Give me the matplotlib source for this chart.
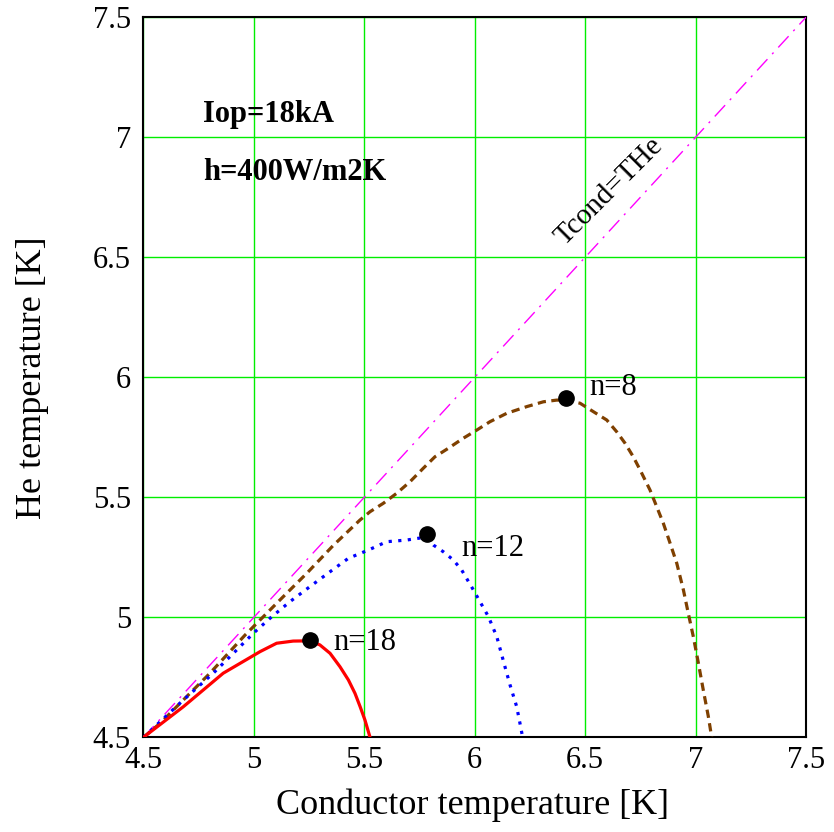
import matplotlib
matplotlib.use("Agg")
import matplotlib.pyplot as plt

# He temperature vs conductor temperature for different n-values
red_x = [4.50, 4.68, 4.861, 5.028, 5.103, 5.178, 5.254, 5.299, 5.345, 5.39, 5.428,
         5.458, 5.481, 5.503, 5.526]
red_y = [4.50, 4.627, 4.767, 4.857, 4.892, 4.901, 4.902, 4.885, 4.85, 4.794, 4.739,
         4.683, 4.628, 4.572, 4.50]

blue_x = [4.50, 4.68, 4.816, 4.907, 4.997, 5.073, 5.163, 5.254, 5.345, 5.428, 5.518,
          5.601, 5.692, 5.75, 5.783, 5.813, 5.858, 5.903, 5.941, 5.994, 6.062, 6.1,
          6.137, 6.16, 6.19, 6.205, 6.217]
blue_y = [4.50, 4.655, 4.767, 4.85, 4.933, 4.996, 5.065, 5.128, 5.19, 5.246, 5.28,
          5.315, 5.322, 5.33, 5.33, 5.301, 5.273, 5.239, 5.197, 5.114, 5.003, 4.919,
          4.794, 4.718, 4.628, 4.558, 4.50]

brown_x = [4.50, 4.575, 4.801, 4.96, 5.133, 5.239, 5.36, 5.48, 5.526, 5.586, 5.647,
           5.707, 5.767, 5.82, 5.88, 5.948, 6.009, 6.069, 6.145, 6.236, 6.311, 6.371,
           6.412, 6.477, 6.537, 6.598, 6.643, 6.681, 6.718, 6.749, 6.794, 6.824, 6.854,
           6.885, 6.915, 6.945, 6.967, 6.99, 7.013, 7.035, 7.058, 7.073]
brown_y = [4.50, 4.558, 4.767, 4.926, 5.086, 5.183, 5.30, 5.405, 5.44, 5.475, 5.517,
           5.565, 5.621, 5.669, 5.704, 5.746, 5.78, 5.815, 5.85, 5.878, 5.898, 5.905,
           5.905, 5.892, 5.857, 5.822, 5.773, 5.725, 5.669, 5.614, 5.53, 5.461, 5.392,
           5.308, 5.225, 5.114, 5.017, 4.919, 4.808, 4.697, 4.586, 4.50]

# Peak points and their n labels
peak_x = [5.254, 5.783, 6.412]
peak_y = [4.905, 5.346, 5.912]
peak_labels = ["n=18", "n=12", "n=8"]

diag = [4.5, 7.5]
ticks = [4.5, 5, 5.5, 6, 6.5, 7, 7.5]
tick_labels = ["4.5", "5", "5.5", "6", "6.5", "7", "7.5"]

plt.rcParams["font.family"] = ["Liberation Serif", "DejaVu Serif"]

fig = plt.figure(figsize=(8.34, 8.32), dpi=100)
ax = fig.add_axes([0.172, 0.1138, 0.7944, 0.8654])

ax.plot(diag, diag, color="#ff00ff", lw=1.0, linestyle=(0, (11, 5, 1.5, 5)), zorder=3)
ax.plot(brown_x, brown_y, color="#7f4000", lw=2.3, linestyle=(0, (2.6, 1.7)), zorder=4)
ax.plot(blue_x, blue_y, color="#0000ff", lw=2.3, linestyle=(0, (1, 2)), zorder=4)
ax.plot(red_x, red_y, color="#ff0000", lw=2.3, zorder=5)
ax.plot(peak_x, peak_y, "o", color="black", ms=11, zorder=6)

# label placement relative to each peak (n=18, n=12, n=8)
label_offsets = [(0.104, -0.01), (0.156, -0.058), (0.106, 0.045)]
for x, y, t, (dx, dy) in zip(peak_x, peak_y, peak_labels, label_offsets):
    ax.text(x + dx, y + dy, t, fontsize=22, ha="left", va="center", zorder=7)

ax.text(6.61, 6.775, "Tcond=THe", fontsize=21, rotation=45, ha="center", va="center")
ax.text(4.77, 7.095, "Iop=18kA", fontsize=22, fontweight="bold", ha="left", va="center")
ax.text(4.77, 6.855, "h=400W/m2K", fontsize=22, fontweight="bold", ha="left", va="center")

ax.set_xlim(4.5, 7.5)
ax.set_ylim(4.5, 7.5)
ax.set_xticks(ticks)
ax.set_xticklabels(tick_labels)
ax.set_yticks(ticks)
ax.set_yticklabels(tick_labels)
ax.tick_params(length=0, labelsize=22)
ax.tick_params(axis="x", pad=6)
ax.tick_params(axis="y", pad=9)
ax.grid(True, color="#00ee00", lw=1.0)
ax.set_axisbelow(True)
for s in ax.spines.values():
    s.set_linewidth(1.5)

ax.set_xlabel("Conductor temperature [K]", fontsize=26)
ax.set_ylabel("He temperature [K]", fontsize=26)
ax.xaxis.set_label_coords(0.497, -0.071)
ax.yaxis.set_label_coords(-0.143, 0.5)

fig.savefig("out.png", dpi=100)
